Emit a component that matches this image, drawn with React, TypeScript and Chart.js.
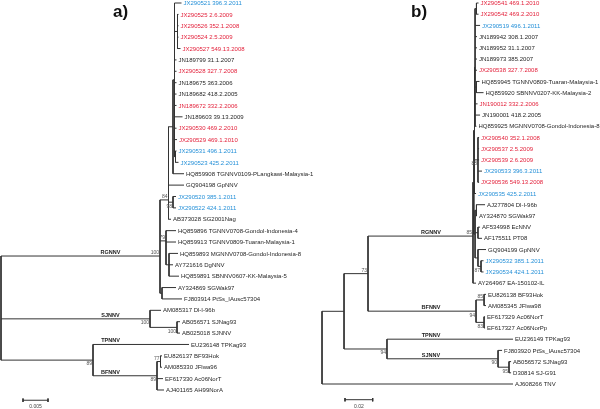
import React, { useEffect, useRef } from "react";
import { Chart, registerables } from "chart.js";

Chart.register(...registerables);

// ---------------- Panel a) ----------------
const leafNamesA = [
  "JX290521 396.3.2011", "JX290525 2.6.2009", "JX290526 352.1.2008", "JX290524 2.5.2009",
  "JX290527 549.13.2008", "JN189799 31.1.2007", "JX290528 327.7.2008", "JN189675 363.2006",
  "JN189682 418.2.2005", "JN189672 332.2.2006", "JN189603 39.13.2009", "JX290530 469.2.2010",
  "JX290529 469.1.2010", "JX290531 496.1.2011", "JX290523 425.2.2011",
  "HQ859908 TGNNV0109-PLangkawi-Malaysia-1", "GQ904198 GpNNV", "JX290520 385.1.2011",
  "JX290522 424.1.2011", "AB373028 SG2001Nag", "HQ859896 TGNNV0708-Gondol-Indonesia-4",
  "HQ859913 TGNNV0809-Tuaran-Malaysia-1", "HQ859893 MGNNV0708-Gondol-Indonesia-8",
  "AY721616 DgNNV", "HQ859891 SBNNV0607-KK-Malaysia-5", "AY324869 SGWak97",
  "FJ803914 PtSs_IAusc57304", "AM085317 Dl-I-96b", "AB056571 SJNag93", "AB025018 SJNNV",
  "EU236148 TPKag93", "EU826137 BF93Hok", "AM085330 JFlwa96", "EF617330 Ac06NorT",
  "AJ401165 AH99NorA",
];
const leafColoursA = [
  "b", "r", "r", "r", "r", "k", "r", "k", "k", "r", "k", "r", "r", "b", "b", "k", "k", "b",
  "b", "k", "k", "k", "k", "k", "k", "k", "k", "k", "k", "k", "k", "k", "k", "k", "k",
];
const leafDepthsA = [
  0.0361, 0.0355, 0.0355, 0.0355, 0.0359, 0.0351, 0.0351, 0.0351, 0.0351, 0.0351, 0.0363,
  0.0351, 0.0352, 0.0351, 0.0355, 0.0366, 0.0366, 0.035, 0.035, 0.034, 0.035, 0.035, 0.0354,
  0.0344, 0.0356, 0.035, 0.0362, 0.032, 0.0358, 0.0358, 0.0376, 0.0322, 0.0322, 0.0324, 0.0326,
];
// internal nodes are numbered 35, 36, ... in this order
const nodeChildrenA = [
  [1, 2, 3, 4],                          // 35
  [13, 14],                              // 36
  [0, 35, 5, 6, 7, 8, 9, 10, 11, 12, 36], // 37
  [37, 15],                              // 38
  [17, 18],                              // 39
  [38, 16, 39, 19],                      // 40
  [22, 23, 24],                          // 41
  [20, 21, 41],                          // 42
  [25, 26],                              // 43
  [40, 42, 43],                          // 44 RGNNV
  [28, 29],                              // 45
  [27, 45],                              // 46 SJNNV
  [31, 32],                              // 47
  [47, 33, 34],                          // 48 BFNNV
  [30, 48],                              // 49
  [44, 46, 49],                          // 50 root
];
const nodeDepthsA = [
  0.0353, 0.0349, 0.0347, 0.0344, 0.0344, 0.0335, 0.0336, 0.033, 0.0322, 0.0318, 0.0352,
  0.0298, 0.0319, 0.0312, 0.0184, 0,
];
// row of a node's stem (null = middle of its children)
const nodeRowsA: (number | null)[] = [
  null, null, null, null, null, 17.3, null, 20.9, null, 22.23, null, null, null, null, null, null,
];
const supportNodesA = [44, 40, 39, 42, 46, 45, 49, 48, 47];
const supportValuesA = ["100", "84", "98", "79", "100", "100", "89", "89", "77"];
const supportBelowA = [false, false, true, false, true, true, true, true, false];
const cladeNodesA = [44, 46, 30, 48];
const cladeNamesA = ["RGNNV", "SJNNV", "TPNNV", "BFNNV"];
const scaleBarLengthA = 0.005;
const scaleBarLabelA = "0.005";

// ---------------- Panel b) ----------------
const leafNamesB = [
  "JX290541 469.1.2010", "JX290542 469.2.2010", "JX290519 496.1.2011", "JN189942 308.1.2007",
  "JN189952 31.1.2007", "JN189973 385.2007", "JX290538 327.7.2008",
  "HQ859945 TGNNV0809-Tuaran-Malaysia-1", "HQ859920 SBNNV0207-KK-Malaysia-2",
  "JN190012 332.2.2006", "JN190001 418.2.2005", "HQ859925 MGNNV0708-Gondol-Indonesia-8",
  "JX290540 352.1.2008", "JX290537 2.5.2009", "JX290539 2.6.2009", "JX290533 396.3.2011",
  "JX290536 549.13.2008", "JX290535 425.2.2011", "AJ277804 Dl-I-96b", "AY324870 SGWak97",
  "AF534998 EcNNV", "AF175511 PT08", "GQ904199 GpNNV", "JX290532 385.1.2011",
  "JX290534 424.1.2011", "AY264967 EA-150102-IL", "EU826138 BF93Hok", "AM085345 JFlwa98",
  "EF617329 Ac06NorT", "EF617327 Ac06NorPp", "EU236149 TPKag93", "FJ803920 PtSs_IAusc57304",
  "AB056572 SJNag93", "D30814 SJ-G91", "AJ608266 TNV",
];
const leafColoursB = [
  "r", "r", "b", "k", "k", "k", "r", "k", "k", "r", "k", "k", "r", "r", "r", "b", "r", "b",
  "k", "k", "k", "k", "k", "b", "b", "k", "k", "k", "k", "k", "k", "k", "k", "k", "k",
];
const leafDepthsB = [
  0.113, 0.113, 0.1141, 0.1119, 0.1119, 0.1119, 0.1119, 0.1137, 0.1166, 0.1123, 0.1141,
  0.1115, 0.1134, 0.1134, 0.1134, 0.1155, 0.1134, 0.1112, 0.1177, 0.1119, 0.1141, 0.1155,
  0.1184, 0.1166, 0.1166, 0.1112, 0.1184, 0.1184, 0.1177, 0.1177, 0.1379, 0.13, 0.1365,
  0.1365, 0.1379,
];
const nodeChildrenB = [
  [0, 1],                               // 35
  [7, 8],                               // 36
  [35, 2, 3, 4, 5, 6, 36, 9, 10, 11],   // 37
  [12, 13, 14, 15, 16],                 // 38
  [37, 38, 17],                         // 39
  [18, 19],                             // 40
  [20, 21],                             // 41
  [23, 24],                             // 42
  [22, 42],                             // 43
  [40, 41, 43],                         // 44
  [39, 44],                             // 45
  [45, 25],                             // 46 RGNNV
  [26, 27],                             // 47
  [28, 29],                             // 48
  [47, 48],                             // 49 BFNNV
  [46, 49],                             // 50
  [32, 33],                             // 51
  [31, 51],                             // 52 SJNNV
  [30, 52],                             // 53
  [50, 53],                             // 54
  [54, 34],                             // 55 root
];
const nodeDepthsB = [
  0.1115, 0.1115, 0.1105, 0.1126, 0.1101, 0.1115, 0.1126, 0.1148, 0.1126, 0.1105, 0.1096,
  0.109, 0.117, 0.117, 0.1112, 0.0332, 0.135, 0.1271, 0.0469, 0.0159, 0,
];
const nodeRowsB: (number | null)[] = [
  null, null, null, null, null, null, null, null, null, null, null,
  20.8, null, null, null, null, null, null, null, null, null,
];
const supportNodesB = [46, 38, 42, 47, 49, 48, 50, 53, 52, 51];
const supportValuesB = ["85", "88", "87", "85", "94", "83", "73", "94", "90", "95"];
const supportBelowB = [false, true, true, false, true, true, false, true, true, true];
const cladeNodesB = [46, 49, 30, 52];
const cladeNamesB = ["RGNNV", "BFNNV", "TPNNV", "SJNNV"];
const scaleBarLengthB = 0.02;
const scaleBarLabelB = "0.02";

// ---------------- drawing helpers ----------------
const COLOURS: Record<string, string> = { k: "#262626", r: "#e3213b", b: "#2590d8" };
const LINE = "#333333";
const FONT = '"Liberation Sans", Arial, sans-serif';

type Layout = { x: number[]; y: number[]; parent: number[] };

function layoutTree(
  leafDepths: number[], nodeChildren: number[][], nodeDepths: number[], nodeRows: (number | null)[]
): Layout {
  const n = leafDepths.length;
  const x = [...leafDepths, ...nodeDepths];
  const y: number[] = leafDepths.map((_, i) => i);
  const parent: number[] = new Array(x.length).fill(-1);
  nodeChildren.forEach((kids, k) => {
    const id = n + k;
    kids.forEach((c) => (parent[c] = id));
    const r = nodeRows[k];
    y[id] = r != null ? r : (y[kids[0]] + y[kids[kids.length - 1]]) / 2;
  });
  return { x, y, parent };
}

type Panel = {
  xId: string;
  yId: string;
  names: string[];
  colours: string[];
  L: Layout;
  nodeChildren: number[][];
  supportNodes: number[];
  supportValues: string[];
  supportBelow: boolean[];
  cladeNodes: number[];
  cladeNames: string[];
  cladeX: number;
  barStart: number;
  barLength: number;
  barLabel: string;
  barRow: number;
  title: string;
  titleX: number;
  titleRow: number;
};

function makePanel(
  xId: string, yId: string, names: string[], colours: string[], leafDepths: number[],
  nodeChildren: number[][], nodeDepths: number[], nodeRows: (number | null)[],
  supportNodes: number[], supportValues: string[],
  supportBelow: boolean[], cladeNodes: number[], cladeNames: string[], cladeX: number,
  barStart: number, barLength: number, barLabel: string, barRow: number,
  title: string, titleX: number, titleRow: number
): Panel {
  return {
    xId, yId, names, colours, L: layoutTree(leafDepths, nodeChildren, nodeDepths, nodeRows),
    nodeChildren, supportNodes, supportValues, supportBelow, cladeNodes, cladeNames, cladeX,
    barStart, barLength, barLabel, barRow, title, titleX, titleRow,
  };
}

const panelA = makePanel(
  "xa", "ya", leafNamesA, leafColoursA, leafDepthsA, nodeChildrenA, nodeDepthsA, nodeRowsA,
  supportNodesA, supportValuesA, supportBelowA, cladeNodesA, cladeNamesA, 0.0219,
  0.0044, scaleBarLengthA, scaleBarLabelA, 34.9, "a)", 0.0224, 0.79
);
const panelB = makePanel(
  "xb", "yb", leafNamesB, leafColoursB, leafDepthsB, nodeChildrenB, nodeDepthsB, nodeRowsB,
  supportNodesB, supportValuesB, supportBelowB, cladeNodesB, cladeNamesB, 0.0787,
  0.0166, scaleBarLengthB, scaleBarLabelB, 35.4, "b)", 0.0643, 0.8
);

function segmentDatasets(p: Panel) {
  const ds: any[] = [];
  const push = (x1: number, y1: number, x2: number, y2: number) =>
    ds.push({
      data: [{ x: x1, y: y1 }, { x: x2, y: y2 }],
      xAxisID: p.xId,
      yAxisID: p.yId,
      showLine: true,
      borderColor: LINE,
      borderWidth: 1,
      pointRadius: 0,
      fill: false,
    });
  const { x, y, parent } = p.L;
  x.forEach((xv, i) => {
    const par = parent[i];
    if (par >= 0) push(x[par], y[i], xv, y[i]);
  });
  const n = p.names.length;
  p.nodeChildren.forEach((kids, k) => {
    const id = n + k;
    const ys = kids.map((c) => y[c]).concat([y[id]]);
    push(x[id], Math.min(...ys), x[id], Math.max(...ys));
  });
  // scale bar
  const b0 = p.barStart, b1 = p.barStart + p.barLength, r = p.barRow;
  push(b0, r, b1, r);
  push(b0, r - 0.15, b0, r + 0.15);
  push(b1, r - 0.15, b1, r + 0.15);
  return ds;
}

function drawPanelText(ctx: CanvasRenderingContext2D, xs: any, ys: any, p: Panel) {
  const { x, y } = p.L;
  ctx.save();
  // leaf labels
  ctx.font = `6px ${FONT}`;
  ctx.textAlign = "left";
  ctx.textBaseline = "middle";
  p.names.forEach((name, i) => {
    ctx.fillStyle = COLOURS[p.colours[i]] || COLOURS.k;
    ctx.fillText(name, xs.getPixelForValue(x[i]) + 2, ys.getPixelForValue(y[i]) + 0.5);
  });
  // support values
  ctx.font = `5px ${FONT}`;
  ctx.fillStyle = "#555";
  ctx.textAlign = "right";
  p.supportNodes.forEach((node, i) => {
    const px = xs.getPixelForValue(x[node]) - 1;
    const py = ys.getPixelForValue(y[node]);
    if (p.supportBelow[i]) {
      ctx.textBaseline = "top";
      ctx.fillText(p.supportValues[i], px, py + 1.5);
    } else {
      ctx.textBaseline = "bottom";
      ctx.fillText(p.supportValues[i], px, py - 0.5);
    }
  });
  // clade names
  ctx.font = `bold 5.5px ${FONT}`;
  ctx.fillStyle = "#222";
  ctx.textAlign = "center";
  ctx.textBaseline = "bottom";
  p.cladeNodes.forEach((node, i) => {
    ctx.fillText(p.cladeNames[i], xs.getPixelForValue(p.cladeX), ys.getPixelForValue(y[node]) - 1);
  });
  // scale bar label
  ctx.font = `5px ${FONT}`;
  ctx.fillStyle = "#444";
  ctx.textAlign = "center";
  ctx.textBaseline = "top";
  ctx.fillText(
    p.barLabel,
    xs.getPixelForValue(p.barStart + p.barLength / 2),
    ys.getPixelForValue(p.barRow) + 4
  );
  // panel title
  ctx.font = `bold 17px ${FONT}`;
  ctx.fillStyle = "#111";
  ctx.textAlign = "left";
  ctx.textBaseline = "middle";
  ctx.fillText(p.title, xs.getPixelForValue(p.titleX), ys.getPixelForValue(p.titleRow));
  ctx.restore();
}

const treeTextPlugin = {
  id: "treeText",
  afterDatasetsDraw(chart: any) {
    [panelA, panelB].forEach((p) =>
      drawPanelText(chart.ctx, chart.scales[p.xId], chart.scales[p.yId], p)
    );
  },
};

export default function App() {
  const ref = useRef<HTMLCanvasElement | null>(null);
  useEffect(() => {
    if (!ref.current) return;
    const chart = new Chart(ref.current, {
      type: "scatter",
      data: { datasets: [...segmentDatasets(panelA), ...segmentDatasets(panelB)] },
      options: {
        animation: false,
        responsive: false,
        maintainAspectRatio: false,
        events: [],
        layout: { padding: 0 },
        plugins: {
          legend: { display: false },
          tooltip: { enabled: false },
          title: { display: false },
        },
        scales: {
          xa: { axis: "x", type: "linear", display: false, min: -0.0002, max: 0.1198 },
          ya: { axis: "y", type: "linear", display: false, min: -0.2636, max: 35.67, reverse: true },
          xb: { axis: "x", type: "linear", display: false, min: -0.2325, max: 0.2007 },
          yb: { axis: "y", type: "linear", display: false, min: -0.268, max: 36.23, reverse: true },
        },
      } as any,
      plugins: [treeTextPlugin],
    });
    return () => chart.destroy();
  }, []);
  return (
    <div style={{ position: "fixed", left: 0, top: 0, width: 600, height: 409, background: "#fff" }}>
      <canvas ref={ref} width={600} height={409} style={{ width: 600, height: 409, display: "block" }} />
    </div>
  );
}
